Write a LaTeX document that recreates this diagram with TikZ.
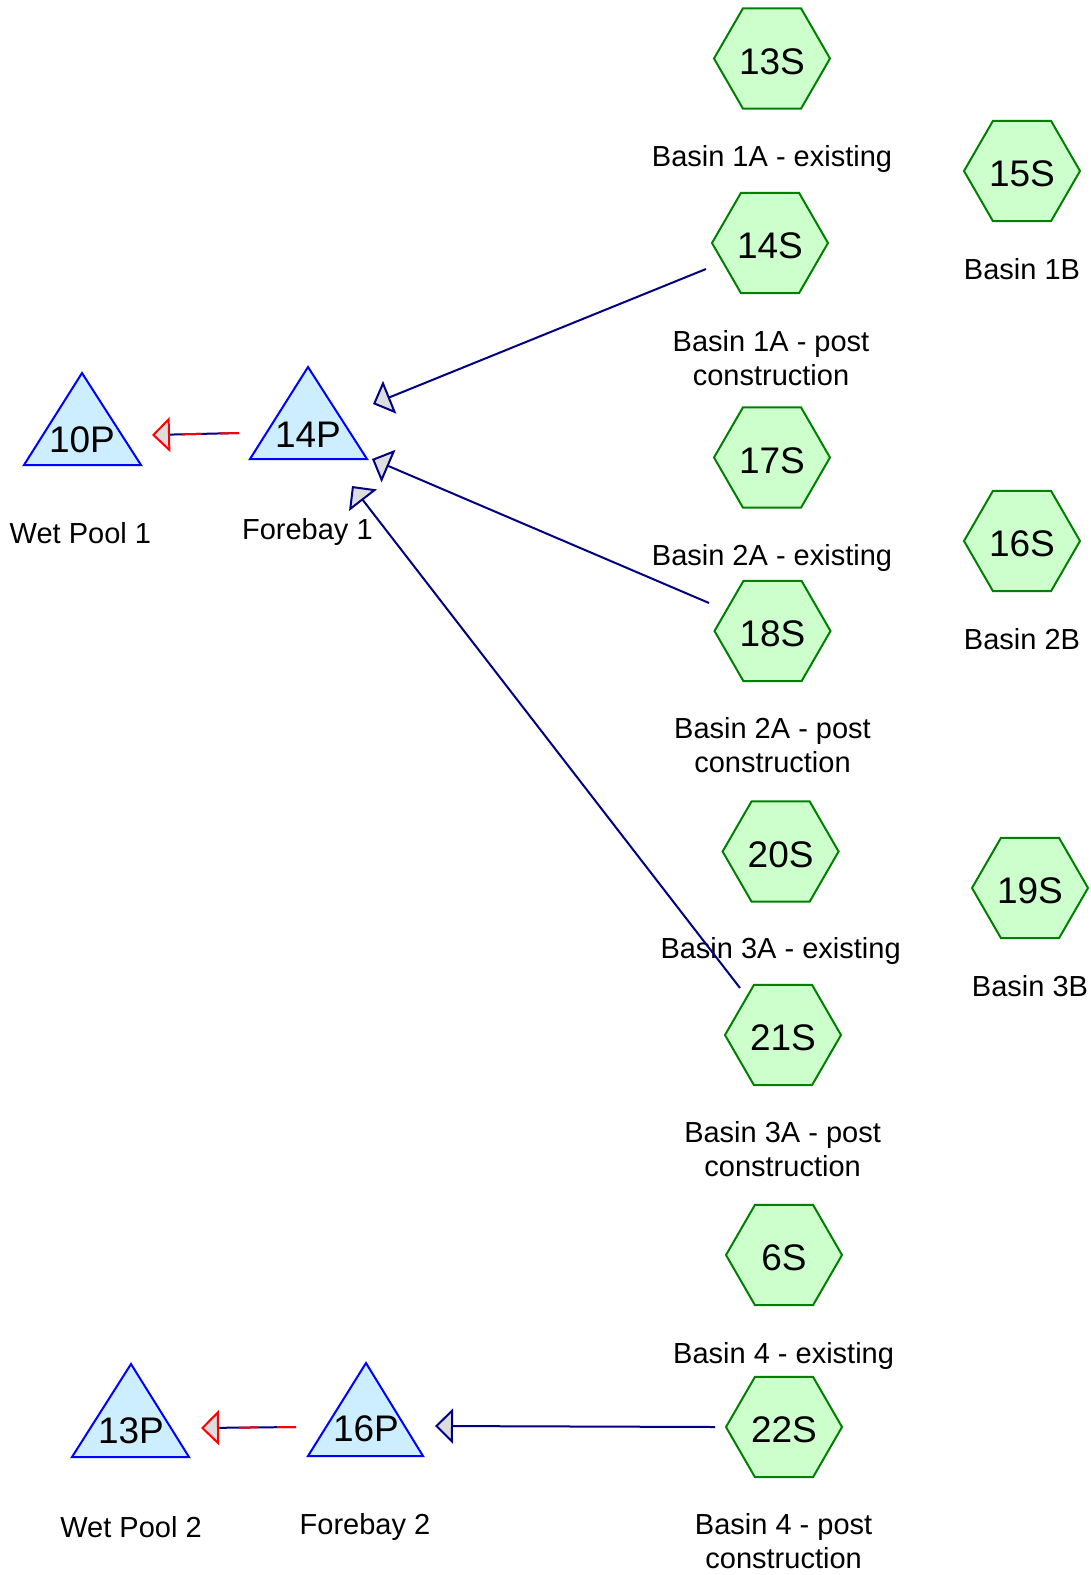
\documentclass[tikz,border=0pt]{standalone}
\usepackage{fontspec}
\setmainfont{Liberation Sans}
\usetikzlibrary{shapes.geometric,arrows.meta}
\definecolor{navy}{HTML}{000080}
\definecolor{hexfill}{HTML}{CCFFCC}
\definecolor{hexline}{HTML}{008000}
\definecolor{trifill}{HTML}{CCEEFF}
\definecolor{triline}{HTML}{0000FF}
\definecolor{tipfill}{HTML}{DDDDDD}
\begin{document}
\begin{tikzpicture}[x=0.5pt,y=-0.5pt,
  hexnode/.style={regular polygon, regular polygon sides=6, minimum size=58pt, inner sep=0pt,
    draw=hexline, fill=hexfill, line width=1pt, font=\fontsize{18.5}{20}\selectfont,
    text height=15.6pt, text depth=0pt},
  idtext/.style={inner sep=0pt, font=\fontsize{18.5}{20}\selectfont, text height=13.2pt, text depth=0pt},
  trishape/.style={draw=triline, fill=trifill, line width=1pt, line join=miter},
  lbl/.style={inner sep=0pt, font=\fontsize{14.5}{17}\selectfont, text height=10.4pt, text depth=0pt},
  lbltwo/.style={inner sep=0pt, align=center, font=\fontsize{14.5}{17}\selectfont},
  flow/.style={draw=navy, line width=1pt, -{Triangle[length=9pt,width=17.5pt,fill=tipfill]}},
  flowtip/.style={draw=navy, line width=1pt, -{Triangle[length=9pt,width=17.5pt,color=red,fill=tipfill]}},
  flowdash/.style={draw=red, line width=1pt, dash pattern=on 9.5pt off 9.5pt, shorten >=9pt}
]
\useasboundingbox (0,0) rectangle (1091,1575);
\fill[white] (0,0) rectangle (1091,1575);

% hexagons (subcatchments)
\node[hexnode] (13S) at (772,58.5) {13S};
\node[hexnode] (15S) at (1022,171) {15S};
\node[hexnode] (14S) at (770,243) {14S};
\node[hexnode] (17S) at (772,457.5) {17S};
\node[hexnode] (16S) at (1022,541) {16S};
\node[hexnode] (18S) at (772.5,631) {18S};
\node[hexnode] (20S) at (780.6,851.5) {20S};
\node[hexnode] (19S) at (1030,888) {19S};
\node[hexnode] (21S) at (783,1035) {21S};
\node[hexnode] (6S) at (784,1255) {6S};
\node[hexnode] (22S) at (784,1427) {22S};

% triangles (ponds)
\draw[trishape] (24,465) -- (82,373) -- (141,465) -- cycle;
\node[idtext] (10P) at (82,439) {10P};
\draw[trishape] (250,459) -- (308,367) -- (367,459) -- cycle;
\node[idtext] (14P) at (308,434) {14P};
\draw[trishape] (72,1457) -- (131,1364) -- (189,1457) -- cycle;
\node[idtext] (13P) at (131,1430) {13P};
\draw[trishape] (308,1456) -- (366,1363) -- (423,1456) -- cycle;
\node[idtext] (16P) at (366,1428) {16P};

% labels
\node[lbl] (l13S) at (772,156) {Basin 1A - existing};
\node[lbl] (l15S) at (1022,269) {Basin 1B};
\node[lbltwo] (l14S) at (771,358) {Basin 1A - post\\construction};
\node[lbl] (l17S) at (772,555) {Basin 2A - existing};
\node[lbl] (l16S) at (1022,639) {Basin 2B};
\node[lbltwo] (l18S) at (772.5,745) {Basin 2A - post\\construction};
\node[lbl] (l20S) at (780.6,948) {Basin 3A - existing};
\node[lbl] (l19S) at (1030,986) {Basin 3B};
\node[lbltwo] (l21S) at (782.6,1149) {Basin 3A - post\\construction};
\node[lbl] (l6S) at (783.6,1353) {Basin 4 - existing};
\node[lbltwo] (l22S) at (783.6,1541.5) {Basin 4 - post\\construction};
\node[lbl] (l10P) at (80.4,533.4) {Wet Pool 1};
\node[lbl] (l14P) at (307.4,529.4) {Forebay 1};
\node[lbl] (l13P) at (131,1527) {Wet Pool 2};
\node[lbl] (l16P) at (365,1524) {Forebay 2};

% connectors
\draw[flow] ([shift={(-64,26)}]14S.center) -- ([shift={(65,-30)}]14P.center);
\draw[flow] ([shift={(-63.5,-28)}]18S.center) -- ([shift={(64,25)}]14P.center);
\draw[flow] ([shift={(-43,-47)}]21S.center) -- ([shift={(44,52)}]14P.center);
\draw[flow] ([shift={(-69,0)}]22S.center) -- ([shift={(69,-2)}]16P.center);

\draw[flowtip] ([shift={(-69,-1)}]14P.center) -- ([shift={(70,-4)}]10P.center);
\draw[flowdash] ([shift={(-69,-1)}]14P.center) -- ([shift={(70,-4)}]10P.center);
\draw[flowtip] ([shift={(-70,-1)}]16P.center) -- ([shift={(70,-2)}]13P.center);
\draw[flowdash] ([shift={(-70,-1)}]16P.center) -- ([shift={(70,-2)}]13P.center);
\end{tikzpicture}
\end{document}
